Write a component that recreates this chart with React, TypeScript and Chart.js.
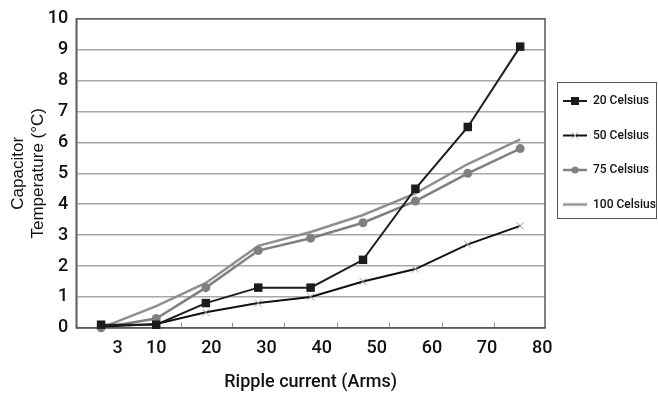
import React, { useEffect, useRef } from 'react';
import { Chart, registerables } from 'chart.js';

Chart.register(...registerables);

const seriesNames = ['20 Celsius', '50 Celsius', '75 Celsius', '100 Celsius'];
const rippleCurrent = [0, 10, 19, 28.5, 38, 47.5, 57, 66.5, 76];
const xTickValues = [3, 10, 20, 30, 40, 50, 60, 70, 80];
const yTickValues = [0, 1, 2, 3, 4, 5, 6, 7, 8, 9, 10];
const temp20 = [0.1, 0.1, 0.8, 1.3, 1.3, 2.2, 4.5, 6.5, 9.1];
const temp50 = [0.03, 0.12, 0.5, 0.8, 1.0, 1.5, 1.9, 2.7, 3.3];
const temp75 = [0.0, 0.3, 1.3, 2.5, 2.9, 3.4, 4.1, 5.0, 5.8];
const temp100 = [0.0, 0.7, 1.45, 2.65, 3.1, 3.65, 4.35, 5.3, 6.1];

const TICK_FONT = 'Roboto';

function makeIcon(color: string, lineWidth: number, marker: string, markerColor: string) {
  const c = document.createElement('canvas');
  c.width = 24;
  c.height = 12;
  const g = c.getContext('2d')!;
  g.strokeStyle = color;
  g.lineWidth = lineWidth;
  g.beginPath();
  g.moveTo(0, 6);
  g.lineTo(24, 6);
  g.stroke();
  if (marker === 'rect') {
    g.fillStyle = markerColor;
    g.fillRect(8, 2, 8, 8);
  } else if (marker === 'circle') {
    g.fillStyle = markerColor;
    g.beginPath();
    g.arc(12, 6, 3.5, 0, Math.PI * 2);
    g.fill();
  } else if (marker === 'cross') {
    g.strokeStyle = markerColor;
    g.lineWidth = 1;
    g.beginPath();
    g.moveTo(8.5, 2.5);
    g.lineTo(15.5, 9.5);
    g.moveTo(15.5, 2.5);
    g.lineTo(8.5, 9.5);
    g.stroke();
  }
  return c;
}

const framePlugin = {
  id: 'frameAndLegendBox',
  beforeDatasetsDraw(chart: any) {
    const { ctx, chartArea: a } = chart;
    const xs = chart.scales.x;
    ctx.save();
    ctx.strokeStyle = '#5a5a5a';
    ctx.lineWidth = 1.5;
    ctx.strokeRect(a.left, a.top, a.right - a.left, a.bottom - a.top);
    // small inward tick marks between the measured points
    ctx.strokeStyle = '#8a8a8a';
    ctx.lineWidth = 1;
    ctx.beginPath();
    for (let i = 0; i < rippleCurrent.length - 1; i++) {
      const px = Math.round(xs.getPixelForValue((rippleCurrent[i] + rippleCurrent[i + 1]) / 2)) + 0.5;
      ctx.moveTo(px, a.bottom - 1);
      ctx.lineTo(px, a.bottom - 5);
    }
    ctx.stroke();
    ctx.restore();
  },
  afterDraw(chart: any) {
    const lg = chart.legend;
    if (!lg || !lg.legendHitBoxes || !lg.legendHitBoxes.length) return;
    const hb = lg.legendHitBoxes;
    const fs = 12;
    const first = hb[0];
    const last = hb[hb.length - 1];
    const left = Math.round(first.left - 6) + 0.5;
    const top = Math.round(first.top + fs / 2 - 19) + 0.5;
    const bottom = Math.round(last.top + fs / 2 + 13) + 0.5;
    const right = chart.width - 1.5;
    const { ctx } = chart;
    ctx.save();
    ctx.strokeStyle = '#555';
    ctx.lineWidth = 1;
    ctx.strokeRect(left, top, right - left, bottom - top);
    ctx.restore();
  },
};

export default function App() {
  const ref = useRef<HTMLCanvasElement | null>(null);

  useEffect(() => {
    if (!ref.current) return;
    const icons = [
      makeIcon('#1c1c1c', 2, 'rect', '#1c1c1c'),
      makeIcon('#111', 2, 'cross', '#999'),
      makeIcon('#808080', 2.5, 'circle', '#808080'),
      makeIcon('#8f8f8f', 2.5, 'none', '#8f8f8f'),
    ];
    const toPts = (vals: number[]) => vals.map((v, i) => ({ x: rippleCurrent[i], y: v }));
    const chart = new Chart(ref.current, {
      type: 'line',
      data: {
        datasets: [
          {
            label: seriesNames[0],
            data: toPts(temp20),
            borderColor: '#1c1c1c',
            borderWidth: 2,
            pointStyle: 'rect',
            pointRadius: 6,
            pointBackgroundColor: '#1c1c1c',
            pointBorderColor: '#1c1c1c',
            pointBorderWidth: 0,
            clip: false,
          },
          {
            label: seriesNames[1],
            data: toPts(temp50),
            borderColor: '#111',
            borderWidth: 2,
            pointStyle: 'crossRot',
            pointRadius: 5,
            pointBorderColor: '#999',
            pointBorderWidth: 1,
            clip: false,
          },
          {
            label: seriesNames[2],
            data: toPts(temp75),
            borderColor: '#808080',
            borderWidth: 2.5,
            pointStyle: 'circle',
            pointRadius: 4.5,
            pointBackgroundColor: '#808080',
            pointBorderColor: '#808080',
            pointBorderWidth: 0,
            clip: false,
          },
          {
            label: seriesNames[3],
            data: toPts(temp100),
            borderColor: '#8f8f8f',
            borderWidth: 2.5,
            pointRadius: 0,
            clip: false,
          },
        ],
      },
      options: {
        responsive: false,
        animation: false,
        layout: { padding: { left: 8, top: 18, right: 0, bottom: 0 } },
        scales: {
          x: {
            type: 'linear',
            min: -4.5,
            max: 80.5,
            afterBuildTicks: (s: any) => {
              s.ticks = xTickValues.map((v) => ({ value: v }));
            },
            grid: { display: false, drawTicks: false, tickLength: 0 },
            border: { display: true, color: '#5a5a5a', width: 1.5 },
            ticks: {
              padding: 10,
              color: '#111',
              font: { family: TICK_FONT, size: 18, weight: '500' },
              maxRotation: 0,
              autoSkip: false,
            },
            title: {
              display: true,
              text: 'Ripple current (Arms)',
              color: '#111',
              font: { family: TICK_FONT, size: 18, weight: '500' },
              padding: { top: 2, bottom: 0 },
            },
          },
          y: {
            min: 0,
            max: 10,
            afterBuildTicks: (s: any) => {
              s.ticks = yTickValues.map((v) => ({ value: v }));
            },
            grid: { color: '#a8a8a8', lineWidth: 1.5, drawTicks: false, tickLength: 0 },
            border: { display: true, color: '#5a5a5a', width: 1.5 },
            ticks: {
              padding: 8,
              color: '#111',
              font: { family: TICK_FONT, size: 18, weight: '500' },
            },
            title: {
              display: true,
              text: ['Capacitor', 'Temperature (°C)'],
              color: '#111',
              font: { family: 'Liberation Sans', size: 17, lineHeight: 1.2 },
              padding: { top: 0, bottom: -9 },
            },
          },
        },
        plugins: {
          tooltip: { enabled: false },
          legend: {
            position: 'right',
            align: 'start',
            maxWidth: 113,
            title: {
              display: true,
              text: '',
              padding: { top: 44.6, bottom: 0 },
              font: { size: 12 },
            },
            labels: {
              usePointStyle: true,
              pointStyleWidth: 24,
              padding: 18,
              color: '#111',
              font: { family: TICK_FONT, size: 12, weight: '500', lineHeight: 1.375 },
              generateLabels: (c: any) =>
                c.data.datasets.map((ds: any, i: number) => ({
                  text: [ds.label],
                  pointStyle: icons[i],
                  datasetIndex: i,
                  hidden: false,
                  lineWidth: 0,
                  strokeStyle: 'rgba(0,0,0,0)',
                  fillStyle: 'rgba(0,0,0,0)',
                  fontColor: '#111',
                })),
            },
          },
        },
      } as any,
      plugins: [framePlugin],
    });
    return () => chart.destroy();
  }, []);

  return (
    <div style={{ position: 'fixed', left: 0, top: 0, width: 658, height: 393, background: '#fff' }}>
      <canvas ref={ref} width={658} height={393} style={{ display: 'block' }} />
    </div>
  );
}
